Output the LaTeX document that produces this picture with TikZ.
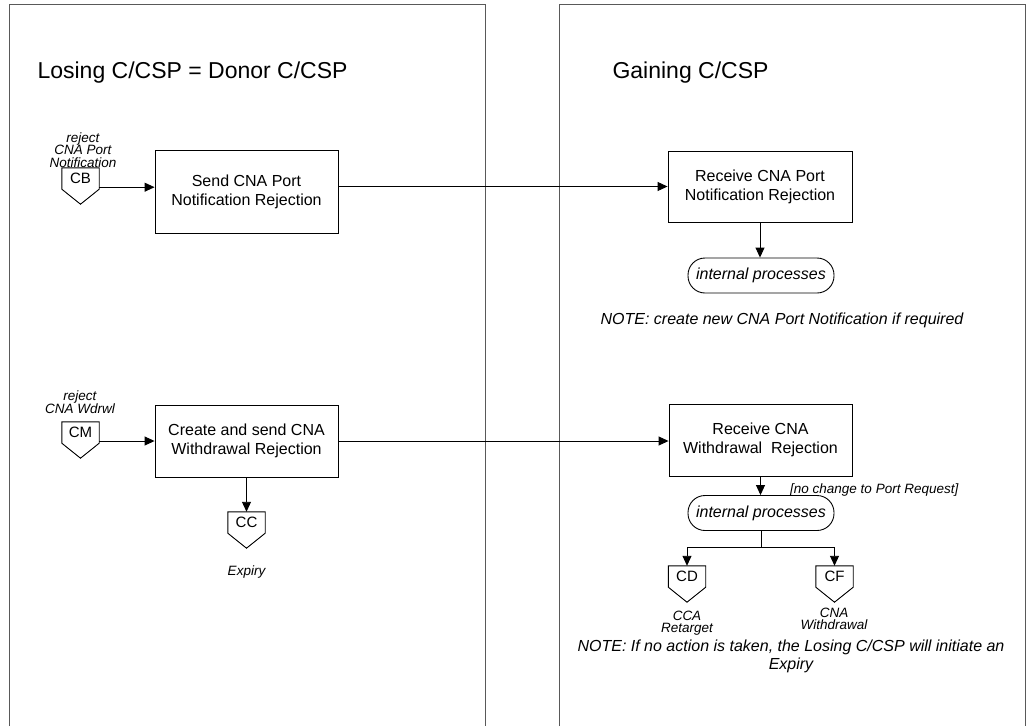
\documentclass[tikz,border=0pt]{standalone}
\usepackage{fontspec}
\setmainfont{Liberation Sans}
\usetikzlibrary{arrows.meta}
\tikzset{
  proc/.style={draw, line width=0.9pt, minimum width=183pt, minimum height=72pt, align=center, font=\fontsize{16}{19}\selectfont},
  ipro/.style={draw, line width=0.9pt, rounded corners=17pt, minimum width=146pt, minimum height=35pt, font=\fontsize{16}{19}\selectfont\itshape},
  offpage/.style={minimum width=37pt, minimum height=21pt, inner sep=0pt, font=\fontsize{15}{18}\selectfont,
    append after command={\pgfextra{\draw[line width=0.9pt] (\tikzlastnode.north west) -- (\tikzlastnode.north east)
      -- (\tikzlastnode.south east) -- ([yshift=-15pt]\tikzlastnode.south) -- (\tikzlastnode.south west) -- cycle;}}},
  tag/.style={align=center, inner sep=0pt, font=\fontsize{13.5}{12.5}\selectfont\itshape},
  note/.style={align=center, inner sep=0pt, font=\fontsize{16}{18}\selectfont\itshape},
  flow/.style={-{Triangle[length=10pt,width=9pt]}, line width=0.9pt},
  lane/.style={draw=black!65, line width=1pt}
}
\begin{document}
\begin{tikzpicture}[x=1pt, y=-1pt]
\useasboundingbox (0,0) rectangle (1031,726);
\draw[lane] (9,726) -- (9,4) -- (485,4) -- (485,726);
\draw[lane] (559,726) -- (559,4) -- (1025,4) -- (1025,726);
\node[anchor=base west, font=\fontsize{23}{27}\selectfont] (losing) at (34,78) {Losing C/CSP = Donor C/CSP};
\node[anchor=base west, font=\fontsize{23}{27}\selectfont] (gaining) at (609,78) {Gaining C/CSP};

\node[proc, minimum height=83pt] (send) at (246.5,191.5) {Send CNA Port\\Notification Rejection};
\node[offpage] (cb) at (80.5,178.5) {CB};
\node[tag] (cbtag) at (83,150) {reject\\CNA Port\\Notification};
\node[proc, minimum width=184pt, minimum height=71pt] (recvpn) at (760,186.5) {Receive CNA Port\\Notification Rejection};
\node[ipro] (ipa) at (761,275.5) {internal processes};
\node[note] (notea) at (782,320) {NOTE: create new CNA Port Notification if required};

\node[proc] (create) at (246.5,441) {Create and send CNA\\Withdrawal Rejection};
\node[offpage] (cm) at (80.5,432.5) {CM};
\node[tag] (cmtag) at (80,402) {reject\\CNA Wdrwl};
\node[offpage] (cc) at (246.5,522.5) {CC};
\node[tag] (cctag) at (246.5,572) {Expiry};
\node[proc] (recvwd) at (760.5,440) {Receive CNA\\Withdrawal~ Rejection};
\node[ipro] (ipb) at (761,513) {internal processes};
\node[tag, anchor=west] (nochg) at (790,490) {[no change to Port Request]};
\coordinate (split) at (761,547);
\node[offpage] (cd) at (687,576.5) {CD};
\node[offpage] (cf) at (834.5,576.5) {CF};
\node[tag] (cdtag) at (687,623) {CCA\\Retarget};
\node[tag] (cftag) at (834,619) {CNA\\Withdrawal};
\node[note] (noteb) at (791,656) {NOTE: If no action is taken, the Losing C/CSP will initiate an\\Expiry};

\draw[flow] ([yshift=2pt]cb.south east) -- ([yshift=2pt]cb.south east -| send.west);
\draw[flow] (send.east |- recvpn.west) -- (recvpn.west);
\draw[flow] (recvpn.south) -- (recvpn.south |- ipa.north);
\draw[flow] (create.west -| cm.east) -- (create.west);
\draw[flow] (create.east) -- (create.east -| recvwd.west);
\draw[flow] (create.south) -- (cc.north);
\draw[flow] (recvwd.south) -- (recvwd.south |- ipb.north);
\draw[line width=0.9pt] (ipb.south) -- (split);
\draw[flow] (split) -| (cd.north);
\draw[flow] (split) -| (cf.north);
\end{tikzpicture}
\end{document}
